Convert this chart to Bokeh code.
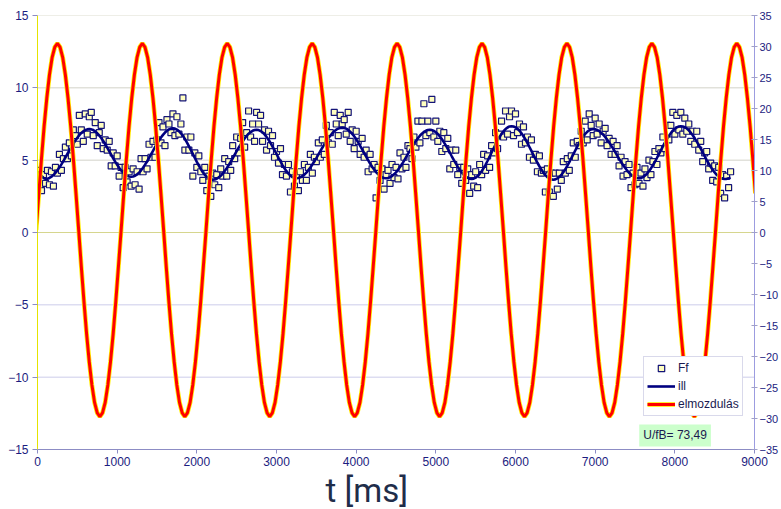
from bokeh.plotting import figure
from bokeh.models import Range1d, LinearAxis, FixedTicker, Span, Label, Legend, LegendItem, Title
from bokeh.embed import file_html
from bokeh.resources import INLINE

# ---------------- data ----------------
t_ms = [
    0, 25, 50, 75, 100, 125, 150, 175, 200, 225, 250, 275, 300, 325, 350, 375, 400, 425, 450, 475,
    500, 525, 550, 575, 600, 625, 650, 675, 700, 725, 750, 775, 800, 825, 850, 875, 900, 925, 950, 975,
    1000, 1025, 1050, 1075, 1100, 1125, 1150, 1175, 1200, 1225, 1250, 1275, 1300, 1325, 1350, 1375, 1400, 1425, 1450, 1475,
    1500, 1525, 1550, 1575, 1600, 1625, 1650, 1675, 1700, 1725, 1750, 1775, 1800, 1825, 1850, 1875, 1900, 1925, 1950, 1975,
    2000, 2025, 2050, 2075, 2100, 2125, 2150, 2175, 2200, 2225, 2250, 2275, 2300, 2325, 2350, 2375, 2400, 2425, 2450, 2475,
    2500, 2525, 2550, 2575, 2600, 2625, 2650, 2675, 2700, 2725, 2750, 2775, 2800, 2825, 2850, 2875, 2900, 2925, 2950, 2975,
    3000, 3025, 3050, 3075, 3100, 3125, 3150, 3175, 3200, 3225, 3250, 3275, 3300, 3325, 3350, 3375, 3400, 3425, 3450, 3475,
    3500, 3525, 3550, 3575, 3600, 3625, 3650, 3675, 3700, 3725, 3750, 3775, 3800, 3825, 3850, 3875, 3900, 3925, 3950, 3975,
    4000, 4025, 4050, 4075, 4100, 4125, 4150, 4175, 4200, 4225, 4250, 4275, 4300, 4325, 4350, 4375, 4400, 4425, 4450, 4475,
    4500, 4525, 4550, 4575, 4600, 4625, 4650, 4675, 4700, 4725, 4750, 4775, 4800, 4825, 4850, 4875, 4900, 4925, 4950, 4975,
    5000, 5025, 5050, 5075, 5100, 5125, 5150, 5175, 5200, 5225, 5250, 5275, 5300, 5325, 5350, 5375, 5400, 5425, 5450, 5475,
    5500, 5525, 5550, 5575, 5600, 5625, 5650, 5675, 5700, 5725, 5750, 5775, 5800, 5825, 5850, 5875, 5900, 5925, 5950, 5975,
    6000, 6025, 6050, 6075, 6100, 6125, 6150, 6175, 6200, 6225, 6250, 6275, 6300, 6325, 6350, 6375, 6400, 6425, 6450, 6475,
    6500, 6525, 6550, 6575, 6600, 6625, 6650, 6675, 6700, 6725, 6750, 6775, 6800, 6825, 6850, 6875, 6900, 6925, 6950, 6975,
    7000, 7025, 7050, 7075, 7100, 7125, 7150, 7175, 7200, 7225, 7250, 7275, 7300, 7325, 7350, 7375, 7400, 7425, 7450, 7475,
    7500, 7525, 7550, 7575, 7600, 7625, 7650, 7675, 7700, 7725, 7750, 7775, 7800, 7825, 7850, 7875, 7900, 7925, 7950, 7975,
    8000, 8025, 8050, 8075, 8100, 8125, 8150, 8175, 8200, 8225, 8250, 8275, 8300, 8325, 8350, 8375, 8400, 8425, 8450, 8475,
    8500, 8525, 8550, 8575, 8600, 8625, 8650, 8675, 8700,
]

ff = [
    3.6, 4.3, 2.9, 4.0, 3.4,
    4.3, 3.3, 4.2, 3.2, 4.5, 4.1, 5.4, 4.3, 5.1, 5.9, 5.1, 6.2, 5.3, 7.1, 6.7, 6.1, 8.1, 7.1, 6.3, 8.2, 6.8, 8.0,
    8.3, 6.7, 7.6, 6.0, 6.9, 7.4, 5.8, 6.4, 5.7, 6.3, 4.6, 5.5, 4.6, 5.3, 3.9, 4.5, 3.1, 4.5, 3.5, 4.2, 3.2,
    4.4, 3.3, 4.2, 3.0, 5.1, 4.2, 5.1, 4.4, 6.1, 5.2, 6.3, 5.2, 6.4, 7.6, 6.2, 7.3, 6.0, 7.8, 7.5, 6.9, 8.2,
    6.7, 8.0, 6.8, 7.5, 9.3, 5.7, 6.6, 5.7, 6.6, 3.9, 5.5, 4.5, 5.3, 4.2, 3.6, 4.5, 2.9, 3.9, 2.5, 4.1,
    3.3, 4.0, 3.1, 4.4, 3.9, 5.1, 3.9, 4.9, 4.3, 6.0, 5.1, 6.6, 5.5, 6.5, 7.6, 5.9, 6.9, 8.4, 6.6, 7.5, 6.3, 8.3,
    7.5, 8.1, 6.3, 7.1, 5.7, 7.0, 6.0, 6.7, 5.2, 5.6, 4.8, 5.8, 4.0, 4.7, 3.9, 4.7, 2.8, 4.2, 3.2, 4.0,
    2.9, 4.2, 3.6, 4.7, 3.6, 4.5, 5.4, 4.1, 5.2, 4.9, 6.2, 5.2, 6.4, 5.4, 7.4, 6.2, 6.9, 6.1, 8.3, 7.5, 6.7, 8.1, 7.5,
    7.8, 6.8, 8.3, 6.3, 7.1, 5.8, 7.0, 6.3, 5.4, 6.5, 5.2, 5.7, 4.2, 5.4, 4.4, 4.7, 2.4, 4.5, 3.6, 4.4, 3.0, 4.0,
    4.3, 3.4, 4.7, 3.8, 4.5, 3.7, 5.5, 4.4, 5.2, 4.5, 6.0, 5.8, 5.1, 6.6, 5.9, 7.7, 6.2, 7.7, 8.9, 6.7, 7.7, 6.9,
    9.2, 6.6, 7.7, 6.3, 7.0, 5.6, 6.9, 5.8, 6.5, 4.4, 5.7, 4.7, 5.7, 4.0, 4.5, 3.4, 4.5, 3.6, 4.4, 2.7, 4.0,
    3.2, 4.2, 3.1, 4.7, 4.0, 5.4, 4.3, 5.3, 4.5, 6.0, 5.5, 6.9, 5.8, 6.8, 7.7, 6.6, 8.4, 6.8, 8.0, 8.4,
    6.7, 8.2, 6.9, 7.5, 6.1, 7.3, 6.2, 6.6, 5.2, 6.4, 5.0, 5.4, 4.2, 5.3, 4.1, 4.3, 2.8, 4.4, 2.8, 4.1, 2.5,
    4.1, 3.0, 4.1, 3.6, 4.9, 4.1, 5.1, 4.3, 5.3, 6.2, 5.2, 6.3, 6.0, 7.0, 6.2, 7.7, 6.4, 8.2, 7.4, 6.7,
    7.9, 6.8, 7.5, 6.2, 7.0, 7.2, 6.0, 6.5, 5.4, 6.3, 5.4, 6.0, 4.6, 5.2, 3.9, 4.9, 4.0, 4.7, 3.1, 4.1, 3.3, 4.5, 3.4,
    4.1, 3.2, 4.4, 3.8, 5.0, 4.0, 4.9, 5.6, 4.7, 5.8, 5.5, 6.6, 5.8, 7.4, 6.4, 7.4, 8.3, 6.8, 8.1, 7.1, 8.3,
    6.8, 7.9, 7.0, 7.5, 6.3, 7.0, 6.1, 7.0, 5.7, 6.3, 4.9, 5.5, 5.6, 4.4, 4.8, 3.6, 4.6, 3.5, 4.5, 2.7, 4.0, 2.4,
    3.9, 3.1, 4.2,
]

ill = [
    4.20, 4.05, 3.90, 3.78, 3.70,
    3.72, 3.77, 3.86, 3.97, 4.12, 4.30, 4.49, 4.71, 4.94, 5.18, 5.43, 5.67, 5.91, 6.14, 6.36, 6.55, 6.73, 6.88, 6.99, 7.08, 7.13, 7.15,
    7.13, 7.08, 6.99, 6.86, 6.71, 6.53, 6.33, 6.10, 5.87, 5.62, 5.38, 5.13, 4.90, 4.68, 4.47, 4.29, 4.14, 4.01, 3.92, 3.87, 3.85,
    3.87, 3.92, 4.02, 4.14, 4.30, 4.48, 4.69, 4.91, 5.15, 5.40, 5.65, 5.90, 6.14, 6.36, 6.57, 6.75, 6.91, 7.03, 7.13, 7.18, 7.20,
    7.18, 7.11, 7.01, 6.86, 6.68, 6.47, 6.23, 5.97, 5.70, 5.43, 5.15, 4.88, 4.62, 4.38, 4.17, 3.99, 3.84, 3.73, 3.67, 3.65,
    3.67, 3.72, 3.81, 3.92, 4.07, 4.25, 4.44, 4.66, 4.89, 5.13, 5.38, 5.62, 5.86, 6.09, 6.31, 6.50, 6.68, 6.83, 6.94, 7.03, 7.08, 7.10,
    7.08, 7.02, 6.92, 6.78, 6.61, 6.41, 6.19, 5.94, 5.69, 5.43, 5.16, 4.91, 4.66, 4.44, 4.24, 4.07, 3.93, 3.83, 3.77, 3.75,
    3.77, 3.82, 3.89, 4.00, 4.14, 4.31, 4.49, 4.70, 4.91, 5.14, 5.38, 5.62, 5.86, 6.09, 6.30, 6.51, 6.69, 6.86, 7.00, 7.11, 7.18, 7.23, 7.25,
    7.23, 7.18, 7.09, 6.97, 6.82, 6.65, 6.45, 6.23, 5.99, 5.75, 5.50, 5.25, 5.01, 4.77, 4.55, 4.35, 4.18, 4.03, 3.91, 3.82, 3.77, 3.75,
    3.77, 3.82, 3.90, 4.02, 4.16, 4.33, 4.52, 4.73, 4.95, 5.19, 5.43, 5.66, 5.90, 6.12, 6.33, 6.52, 6.69, 6.83, 6.95, 7.03, 7.08, 7.10,
    7.08, 7.02, 6.93, 6.81, 6.65, 6.46, 6.25, 6.02, 5.78, 5.53, 5.27, 5.02, 4.78, 4.55, 4.34, 4.15, 3.99, 3.87, 3.78, 3.72, 3.70,
    3.72, 3.79, 3.90, 4.05, 4.23, 4.45, 4.70, 4.96, 5.24, 5.53, 5.81, 6.09, 6.35, 6.60, 6.82, 7.00, 7.15, 7.26, 7.33, 7.35,
    7.33, 7.27, 7.17, 7.03, 6.86, 6.65, 6.43, 6.18, 5.91, 5.64, 5.36, 5.09, 4.82, 4.58, 4.35, 4.14, 3.97, 3.83, 3.73, 3.67, 3.65,
    3.67, 3.74, 3.84, 3.98, 4.16, 4.37, 4.61, 4.86, 5.13, 5.40, 5.67, 5.94, 6.19, 6.43, 6.64, 6.82, 6.96, 7.06, 7.13, 7.15,
    7.13, 7.09, 7.01, 6.90, 6.77, 6.61, 6.43, 6.23, 6.02, 5.80, 5.57, 5.33, 5.10, 4.88, 4.67, 4.47, 4.29, 4.13, 4.00, 3.89, 3.81, 3.77, 3.75,
    3.77, 3.83, 3.93, 4.06, 4.23, 4.43, 4.65, 4.89, 5.15, 5.42, 5.68, 5.95, 6.21, 6.45, 6.67, 6.87, 7.04, 7.17, 7.27, 7.33, 7.35,
    7.33, 7.28, 7.19, 7.06, 6.90, 6.72, 6.51, 6.28, 6.04, 5.79, 5.53, 5.27, 5.01, 4.77, 4.54, 4.33, 4.15, 3.99, 3.87, 3.77, 3.72, 3.70,
    3.71, 3.74, 3.78,
]

t_red = [
    -17, 17, 50, 83, 117, 150, 183, 217,
    250, 283, 317, 350, 383, 417, 450, 483, 517, 550, 583, 616, 650, 683, 716, 750,
    783, 816, 850, 883, 916, 950, 983, 1016, 1050, 1083, 1116, 1149, 1183, 1216, 1249, 1283,
    1316, 1349, 1383, 1416, 1449, 1483, 1516, 1549, 1583, 1616, 1649, 1682, 1716, 1749, 1782, 1816,
    1849, 1882, 1916, 1949, 1982, 2016, 2049, 2082, 2116, 2149, 2182, 2215, 2249, 2282, 2315, 2349,
    2382, 2415, 2449, 2482, 2515, 2549, 2582, 2615, 2649, 2682, 2715, 2748, 2782, 2815, 2848, 2882,
    2915, 2948, 2982, 3015, 3048, 3082, 3115, 3148, 3182, 3215, 3248, 3281, 3315, 3348, 3381, 3415,
    3448, 3481, 3515, 3548, 3581, 3615, 3648, 3681, 3715, 3748, 3781, 3814, 3848, 3881, 3914, 3948,
    3981, 4014, 4048, 4081, 4114, 4148, 4181, 4214, 4248, 4281, 4314, 4347, 4381, 4414, 4447, 4481,
    4514, 4547, 4581, 4614, 4647, 4681, 4714, 4747, 4781, 4814, 4847, 4880, 4914, 4947, 4980, 5014,
    5047, 5080, 5114, 5147, 5180, 5214, 5247, 5280, 5314, 5347, 5380, 5413, 5447, 5480, 5513, 5547,
    5580, 5613, 5647, 5680, 5713, 5747, 5780, 5813, 5847, 5880, 5913, 5946, 5980, 6013, 6046, 6080,
    6113, 6146, 6180, 6213, 6246, 6280, 6313, 6346, 6380, 6413, 6446, 6479, 6513, 6546, 6579, 6613,
    6646, 6679, 6713, 6746, 6779, 6813, 6846, 6879, 6913, 6946, 6979, 7012, 7046, 7079, 7112, 7146,
    7179, 7212, 7246, 7279, 7312, 7346, 7379, 7412, 7446, 7479, 7512, 7545, 7579, 7612, 7645, 7679,
    7712, 7745, 7779, 7812, 7845, 7879, 7912, 7945, 7979, 8012, 8045, 8078, 8112, 8145, 8178, 8212,
    8245, 8278, 8312, 8345, 8378, 8412, 8445, 8478, 8512, 8545, 8578, 8611, 8645, 8678, 8711, 8745,
    8778, 8811, 8845, 8878, 8911, 8945, 8978, 9011,
]

elmozdulas = [
    0.4, 6.3, 11.9, 17.1, 21.7, 25.4, 28.2, 29.9,
    30.5, 29.9, 28.2, 25.4, 21.7, 17.1, 11.9, 6.3, 0.4, -5.5, -11.1, -16.3, -20.9, -24.6, -27.4, -29.1,
    -29.7, -29.1, -27.4, -24.6, -20.9, -16.3, -11.1, -5.5, 0.4, 6.3, 11.9, 17.1, 21.7, 25.4, 28.2, 29.9,
    30.5, 29.9, 28.2, 25.4, 21.7, 17.1, 11.9, 6.3, 0.4, -5.5, -11.1, -16.3, -20.9, -24.6, -27.4, -29.1,
    -29.7, -29.1, -27.4, -24.6, -20.9, -16.3, -11.1, -5.5, 0.4, 6.3, 11.9, 17.1, 21.7, 25.4, 28.2, 29.9,
    30.5, 29.9, 28.2, 25.4, 21.7, 17.1, 11.9, 6.3, 0.4, -5.5, -11.1, -16.3, -20.9, -24.6, -27.4, -29.1,
    -29.7, -29.1, -27.4, -24.6, -20.9, -16.3, -11.1, -5.5, 0.4, 6.3, 11.9, 17.1, 21.7, 25.4, 28.2, 29.9,
    30.5, 29.9, 28.2, 25.4, 21.7, 17.1, 11.9, 6.3, 0.4, -5.5, -11.1, -16.3, -20.9, -24.6, -27.4, -29.1,
    -29.7, -29.1, -27.4, -24.6, -20.9, -16.3, -11.1, -5.5, 0.4, 6.3, 11.9, 17.1, 21.7, 25.4, 28.2, 29.9,
    30.5, 29.9, 28.2, 25.4, 21.7, 17.1, 11.9, 6.3, 0.4, -5.5, -11.1, -16.3, -20.9, -24.6, -27.4, -29.1,
    -29.7, -29.1, -27.4, -24.6, -20.9, -16.3, -11.1, -5.5, 0.4, 6.3, 11.9, 17.1, 21.7, 25.4, 28.2, 29.9,
    30.5, 29.9, 28.2, 25.4, 21.7, 17.1, 11.9, 6.3, 0.4, -5.5, -11.1, -16.3, -20.9, -24.6, -27.4, -29.1,
    -29.7, -29.1, -27.4, -24.6, -20.9, -16.3, -11.1, -5.5, 0.4, 6.3, 11.9, 17.1, 21.7, 25.4, 28.2, 29.9,
    30.5, 29.9, 28.2, 25.4, 21.7, 17.1, 11.9, 6.3, 0.4, -5.5, -11.1, -16.3, -20.9, -24.6, -27.4, -29.1,
    -29.7, -29.1, -27.4, -24.6, -20.9, -16.3, -11.1, -5.5, 0.4, 6.3, 11.9, 17.1, 21.7, 25.4, 28.2, 29.9,
    30.5, 29.9, 28.2, 25.4, 21.7, 17.1, 11.9, 6.3, 0.4, -5.5, -11.1, -16.3, -20.9, -24.6, -27.4, -29.1,
    -29.7, -29.1, -27.4, -24.6, -20.9, -16.3, -11.1, -5.5, 0.4, 6.3, 11.9, 17.1, 21.7, 25.4, 28.2, 29.9,
    30.5, 29.9, 28.2, 25.4, 21.7, 17.1, 11.9, 6.3,
]

x_ticks = [0, 1000, 2000, 3000, 4000, 5000, 6000, 7000, 8000, 9000]
y_left_ticks = [-15, -10, -5, 0, 5, 10, 15]
y_right_ticks = [-35, -30, -25, -20, -15, -10, -5, 0, 5, 10, 15, 20, 25, 30, 35]
series_names = ["Ff", "ill", "elmozdulás"]
note_text = "U/fB= 73,49"
x_title = "t [ms]"

# ---------------- styling ----------------
LABEL_FONT = "Liberation Sans"
LABEL_COLOR = "#1c1c80"

p = figure(width=781, height=509, x_range=Range1d(0, 9000), y_range=Range1d(-15, 15),
           output_backend="svg", toolbar_location=None,
           min_border_left=37, min_border_right=4, min_border_top=15, min_border_bottom=59)
p.extra_y_ranges = {"right": Range1d(-35, 35)}
p.outline_line_color = None
p.background_fill_color = "white"
p.border_fill_color = "white"
p.xgrid.visible = False
p.ygrid.visible = False

grid_colors = {15: "#deded0", 10: "#d2d2c8", 5: "#d2d2c8", 0: "#d6d68e", -5: "#ccccea", -10: "#ccccea"}
for v in y_left_ticks:
    if v in grid_colors:
        p.add_layout(Span(location=v, dimension="width", line_color=grid_colors[v],
                          line_width=1, level="underlay"))

# x axis
xa = p.xaxis[0]
xa.ticker = FixedTicker(ticks=x_ticks)
xa.axis_line_color = "#8c8cc4"
xa.major_tick_line_color = "#8c8cc4"
xa.major_tick_out = 4
xa.major_tick_in = 0
xa.minor_tick_out = 0
xa.minor_tick_in = 0
xa.major_label_standoff = 3
xa.major_label_text_font = LABEL_FONT
xa.major_label_text_font_size = "12px"
xa.major_label_text_color = LABEL_COLOR

# left axis
ya = p.yaxis[0]
ya.ticker = FixedTicker(ticks=y_left_ticks)
ya.axis_line_color = "#e4e400"
ya.major_tick_line_color = "#8c8cc4"
ya.major_tick_out = 5
ya.major_tick_in = 0
ya.minor_tick_out = 0
ya.minor_tick_in = 0
ya.major_label_standoff = 4
ya.major_label_text_font = LABEL_FONT
ya.major_label_text_font_size = "12px"
ya.major_label_text_color = LABEL_COLOR

# right axis
ra = LinearAxis(y_range_name="right", ticker=FixedTicker(ticks=y_right_ticks))
ra.axis_line_color = "#9c9ce0"
ra.major_tick_line_color = "#a0a0c8"
ra.major_tick_out = 3
ra.major_tick_in = 3
ra.minor_tick_out = 0
ra.minor_tick_in = 0
ra.major_label_standoff = 2
ra.major_label_text_font = LABEL_FONT
ra.major_label_text_font_size = "11px"
ra.major_label_text_color = LABEL_COLOR
p.add_layout(ra, "right")

# series
r_ff = p.scatter(t_ms, ff, marker="square", size=6, line_color="#141478", line_width=1.2,
                 fill_color="#ffffc0")
r_ill = p.line(t_ms, ill, line_color="#000080", line_width=2.6)
r_red_under = p.line(t_red, elmozdulas, y_range_name="right", line_color="#ffee00", line_width=4.6)
r_red = p.line(t_red, elmozdulas, y_range_name="right", line_color="#ff0000", line_width=3)

legend = Legend(items=[LegendItem(label=series_names[0], renderers=[r_ff]),
                       LegendItem(label=series_names[1], renderers=[r_ill]),
                       LegendItem(label=series_names[2], renderers=[r_red_under, r_red])],
                location=(606, 33))
legend.label_text_font = LABEL_FONT
legend.label_text_font_size = "12px"
legend.label_text_color = "#1a1a50"
legend.glyph_width = 28
legend.glyph_height = 16
legend.label_height = 16
legend.spacing = 2
legend.padding = 3
legend.margin = 0
legend.label_standoff = 3
legend.border_line_color = "#b4b4d8"
legend.border_line_width = 1
legend.background_fill_color = "white"
legend.background_fill_alpha = 1
p.add_layout(legend)

p.add_layout(Label(x=7553, y=-14.03, text=note_text, text_align="left", text_baseline="middle",
                   text_font=LABEL_FONT, text_font_size="12px", text_color="#1a1a50",
                   background_fill_color="#ccffcc", background_fill_alpha=1, padding=4))

p.add_layout(Title(text=x_title, align="left", offset=288, standoff=0,
                   text_font="Roboto", text_font_size="33px", text_font_style="normal",
                   text_color="#1f2d4a"), "below")

open("out.html", "w").write(file_html(p, INLINE))
